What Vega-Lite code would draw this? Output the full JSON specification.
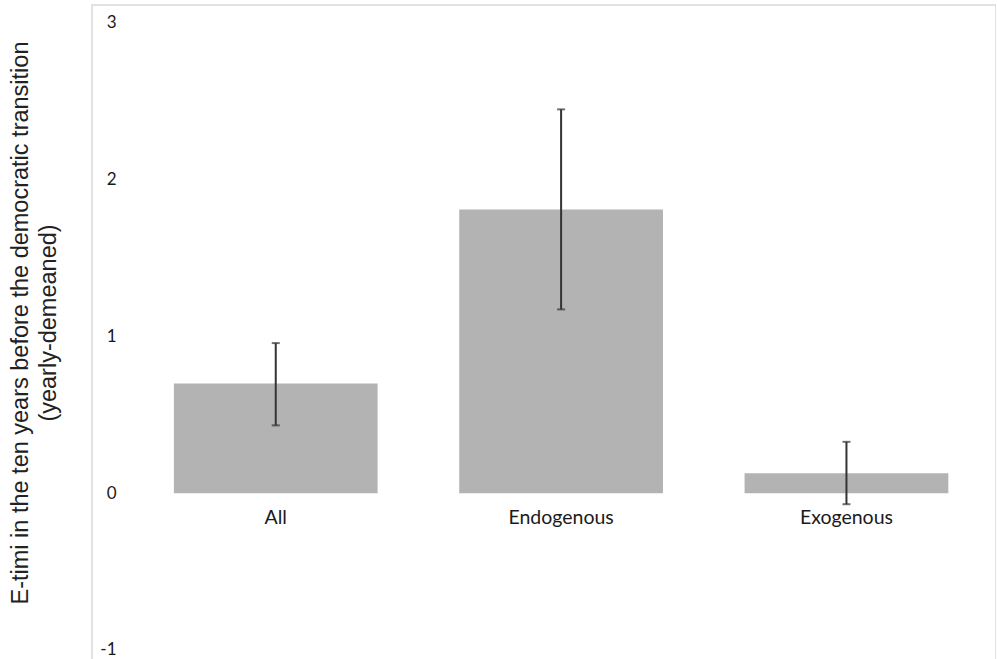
{
  "$schema": "https://vega.github.io/schema/vega-lite/v6.json",
  "autosize": {"type": "none"},
  "padding": {"left": 92, "top": 5, "right": 0, "bottom": 0},
  "width": 904,
  "height": 660,
  "background": "white",
  "title": {
    "text": ["E-timi in the ten years before the democratic transition", "(yearly-demeaned)"],
    "orient": "left",
    "anchor": "middle",
    "frame": "group",
    "font": "Liberation Sans",
    "fontSize": 23.5,
    "fontWeight": "normal",
    "color": "#222222",
    "lineHeight": 28,
    "limit": 1000,
    "offset": 32,
    "dx": 12
  },
  "config": {
    "view": {"stroke": "#d9d9d9", "strokeWidth": 1.5, "fill": "white"},
    "axis": {"grid": false, "domain": false, "ticks": false, "tickSize": 0, "labelFont": "Lato", "labelColor": "#1a1a1a"}
  },
  "data": {
    "values": [
      {"group": "All", "value": 0.70, "low": 0.433, "high": 0.958},
      {"group": "Endogenous", "value": 1.81, "low": 1.173, "high": 2.449},
      {"group": "Exogenous", "value": 0.128, "low": -0.07, "high": 0.328}
    ]
  },
  "encoding": {
    "x": {
      "field": "group",
      "type": "nominal",
      "sort": null,
      "scale": {"paddingInner": 0.286, "paddingOuter": 0.227, "align": 0.632},
      "axis": {
        "title": null,
        "orient": "bottom",
        "offset": -171.75,
        "labelAngle": 0,
        "labelFontSize": 19.5,
        "labelPadding": 15,
        "labelBaseline": "top"
      }
    }
  },
  "layer": [
    {
      "mark": {"type": "bar", "color": "#b3b3b3"},
      "encoding": {
        "y": {
          "field": "value",
          "type": "quantitative",
          "title": null,
          "scale": {"domain": [-1.0957, 3.1148], "nice": false, "zero": false},
          "axis": {
            "title": null,
            "values": [-1, 0, 1, 2, 3],
            "labelExpr": "'' + datum.value",
            "orient": "left",
            "offset": -24,
            "labelPadding": 0,
            "labelFontSize": 17,
            "labelAlign": "right",
            "labelBaseline": "middle"
          }
        }
      }
    },
    {
      "mark": {"type": "errorbar", "ticks": {"size": 8, "thickness": 2, "color": "#333333"}, "rule": {"strokeWidth": 2, "color": "#333333"}},
      "encoding": {
        "y": {"field": "low", "type": "quantitative", "title": null},
        "y2": {"field": "high"}
      }
    }
  ]
}
